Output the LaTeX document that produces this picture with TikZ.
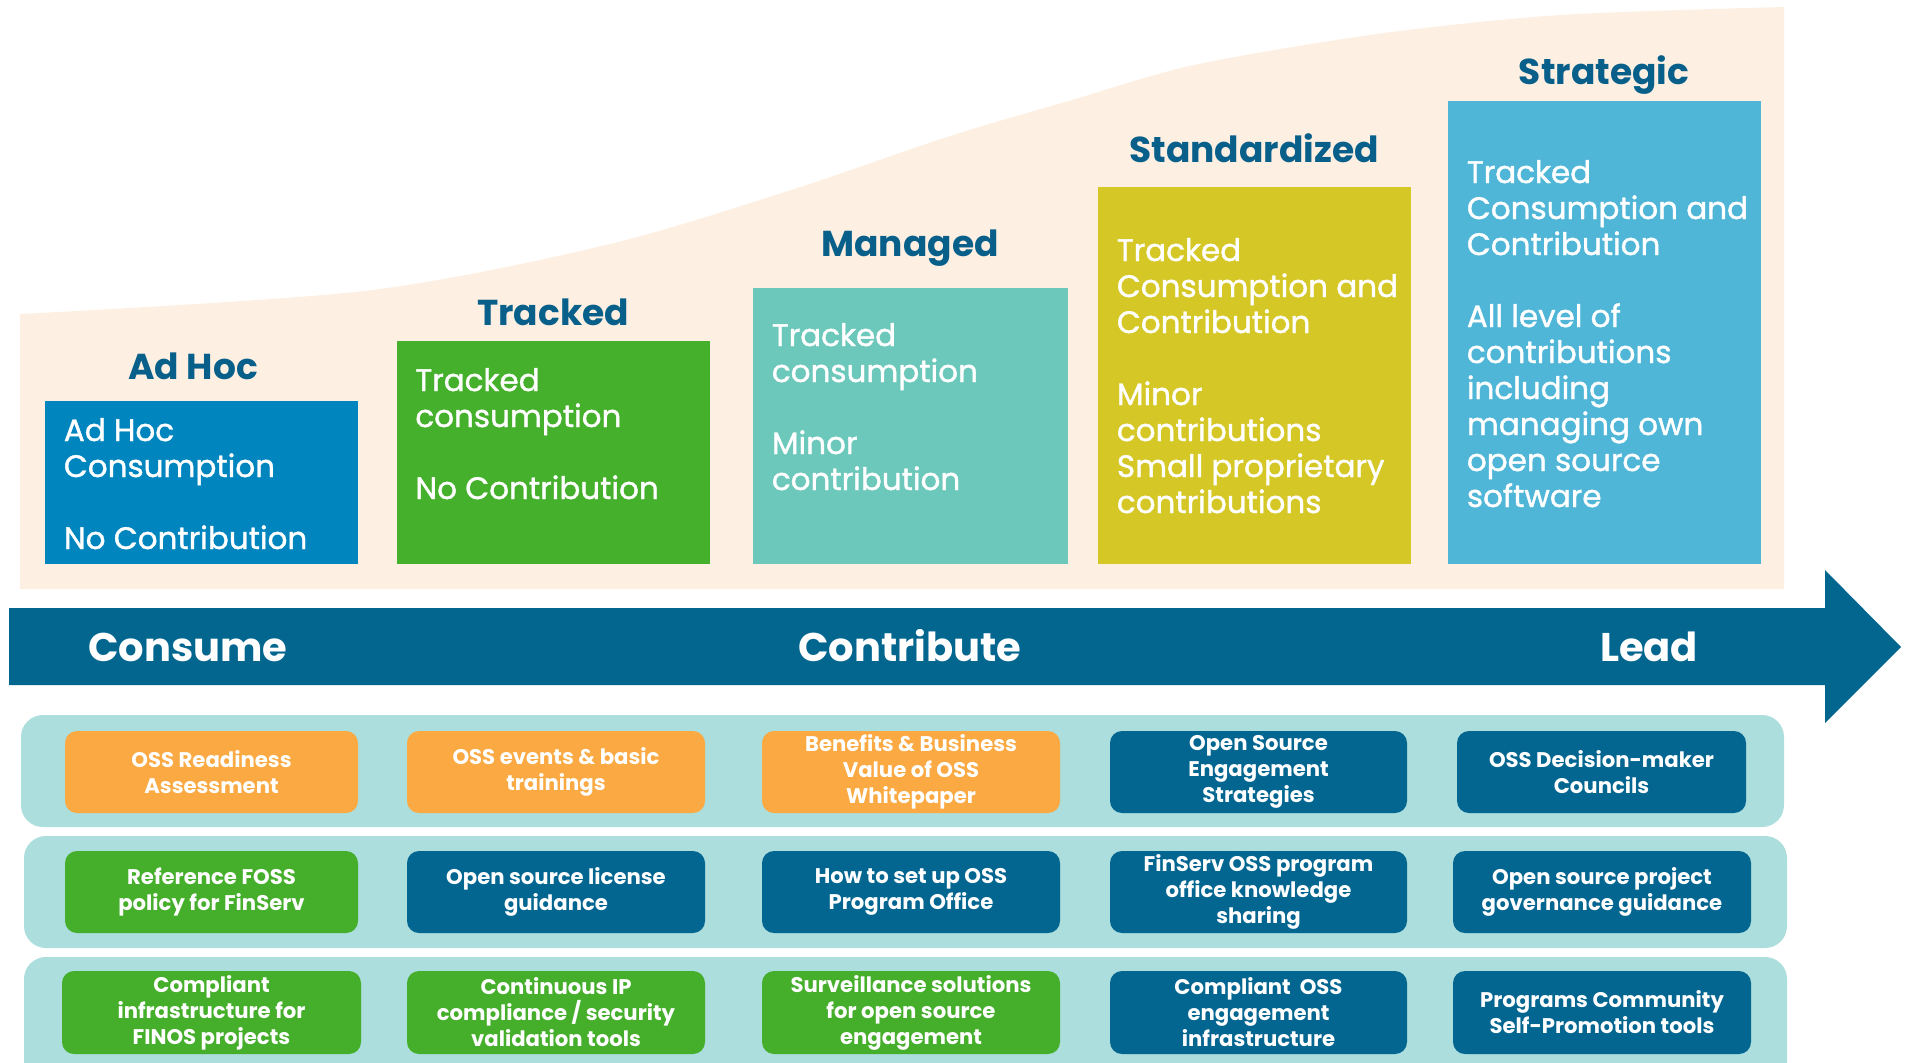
\documentclass[tikz,border=0pt]{standalone}
\usepackage{fontspec}
\setmainfont{Poppins}
\newfontfamily\medfont{Poppins}[FakeBold=1.2]
\definecolor{beige}{HTML}{FDF0E2}
\definecolor{adhoc}{HTML}{0085BE}
\definecolor{trackedc}{HTML}{45B02B}
\definecolor{managedc}{HTML}{6CC8BA}
\definecolor{standardc}{HTML}{D5C726}
\definecolor{strategicc}{HTML}{4FB6D8}
\definecolor{titleblue}{HTML}{075F8A}
\definecolor{arrowblue}{HTML}{03668F}
\definecolor{bandc}{HTML}{ABDEDC}
\definecolor{orangec}{HTML}{FBA942}
\definecolor{greenc}{HTML}{45AF2B}
\definecolor{darkbluec}{HTML}{036691}
\tikzset{
  stagebox/.style n args={2}{anchor=north west, inner sep=0, draw=none, minimum width=#1*0.5pt, minimum height=#2*0.5pt},
  stagetext/.style={anchor=base west, inner sep=0, align=left, text=white, font=\medfont\fontsize{15.5}{18}\selectfont},
  stagetitle/.style={anchor=base, inner sep=0, text=titleblue, font=\bfseries\fontsize{18}{21}\selectfont},
  arrowlabel/.style={anchor=base, inner sep=0, text=white, font=\bfseries\fontsize{20}{24}\selectfont},
  band/.style={fill=bandc, rounded corners=11pt},
  item/.style n args={2}{rounded corners=6pt, inner sep=0, align=center, text=white, minimum width=#1*0.5pt, minimum height=#2*0.5pt, font=\bfseries\fontsize{10.6}{13}\selectfont},
}
\begin{document}
\begin{tikzpicture}[x=0.5pt,y=-0.5pt]
\useasboundingbox (0,0) rectangle (1906,1062);
% beige background with curved top
\fill[beige] (20,589) -- plot[smooth] coordinates {(20,314) (364,291) (606,245) (788,191) (950,136) (1072,100) (1194,65) (1377,34) (1560,15) (1784,7)} -- (1784,589) -- cycle;
% stage boxes
\node[stagebox={313}{163}, fill=adhoc] (b1) at (45,401) {};
\node[stagebox={313}{223}, fill=trackedc] (b2) at (397,341) {};
\node[stagebox={315}{276}, fill=managedc] (b3) at (753,288) {};
\node[stagebox={313}{377}, fill=standardc] (b4) at (1098,187) {};
\node[stagebox={313}{463}, fill=strategicc] (b5) at (1448,101) {};
% stage titles
\node[stagetitle] (h1) at (193,379) {Ad Hoc};
\node[stagetitle] (h2) at (553,325) {Tracked};
\node[stagetitle] (h3) at (910,256) {Managed};
\node[stagetitle] (h4) at (1254,162.6) {Standardized};
\node[stagetitle] (h5) at (1604,84) {Strategic};
% stage texts (anchored at the baseline of the last line)
\node[stagetext] (s1) at (63.5,549) {Ad Hoc\\Consumption\\[18pt]No Contribution};
\node[stagetext] (s2) at (415,499) {Tracked\\consumption\\[18pt]No Contribution};
\node[stagetext] (s3) at (771.5,490) {Tracked\\consumption\\[18pt]Minor\\contribution};
\node[stagetext] (s4) at (1116.5,513) {Tracked\\Consumption and\\Contribution\\[18pt]Minor\\contributions\\Small proprietary\\contributions};
\node[stagetext] (s5) at (1466.5,507) {Tracked\\Consumption and\\Contribution\\[18pt]All level of\\contributions\\including\\managing own\\open source\\software};
% big arrow
\fill[arrowblue] (9,608) -- (1825,608) -- (1825,570) -- (1901,647) -- (1825,723) -- (1825,685) -- (9,685) -- cycle;
\node[arrowlabel] (consume) at (188,661) {Consume};
\node[arrowlabel] (contribute) at (910,661) {Contribute};
\node[arrowlabel] (lead) at (1649,661) {Lead};
% bands
\fill[band] (21,715) rectangle (1784,827);
\fill[band] (24,836) rectangle (1787,948);
\fill[band] (24,957) rectangle (1787,1090);
% row 1
\node[item={293}{82}, fill=orangec] (r1c1) at (211.5,772) {OSS Readiness\\Assessment};
\node[item={298}{82}, fill=orangec] (r1c2) at (556,772) {OSS events \& basic\\trainings};
\node[item={298}{82}, fill=orangec] (r1c3) at (911,772) {Benefits \& Business\\Value of OSS\\Whitepaper};
\node[item={297}{82}, fill=darkbluec] (r1c4) at (1258.5,772) {Open Source\\Engagement\\Strategies};
\node[item={289}{82}, fill=darkbluec] (r1c5) at (1601.5,772) {OSS Decision-maker\\Councils};
% row 2
\node[item={293}{82}, fill=greenc] (r2c1) at (211.5,892) {Reference FOSS\\policy for FinServ};
\node[item={298}{82}, fill=darkbluec] (r2c2) at (556,892) {Open source license\\guidance};
\node[item={298}{82}, fill=darkbluec] (r2c3) at (911,892) {How to set up OSS\\Program Office};
\node[item={297}{82}, fill=darkbluec] (r2c4) at (1258.5,892) {FinServ OSS program\\office knowledge\\sharing};
\node[item={298}{82}, fill=darkbluec] (r2c5) at (1602,892) {Open source project\\governance guidance};
% row 3
\node[item={299}{83}, fill=greenc] (r3c1) at (211.5,1012.5) {Compliant\\infrastructure for\\FINOS projects};
\node[item={298}{83}, fill=greenc] (r3c2) at (556,1012.5) {Continuous IP\\compliance / security\\validation tools};
\node[item={298}{83}, fill=greenc] (r3c3) at (911,1012.5) {Surveillance solutions\\for open source\\engagement};
\node[item={297}{83}, fill=darkbluec] (r3c4) at (1258.5,1012.5) {Compliant~~OSS\\engagement\\infrastructure};
\node[item={298}{83}, fill=darkbluec] (r3c5) at (1602,1012.5) {Programs Community\\Self-Promotion tools};
\end{tikzpicture}
\end{document}
